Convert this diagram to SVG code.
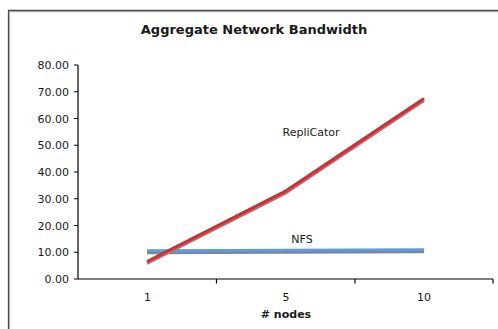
<svg xmlns="http://www.w3.org/2000/svg" width="498" height="329" viewBox="0 0 498 329">
  <style>
    text { font-family: "DejaVu Sans", Verdana, sans-serif; fill: #1a1a1a; }
    .lbl { font-size: 11px; }
    .ylbl { font-size: 11px; text-anchor: end; }
    .xlbl { font-size: 11px; text-anchor: middle; }
    .bold { font-weight: bold; }
    .axis { stroke: #000; stroke-width: 1.2; fill: none; }
    .shadow { stroke: #858585; stroke-width: 3; fill: none; stroke-linejoin: round; }
    .rep { stroke: #e0262e; stroke-width: 3; fill: none; stroke-linejoin: round; }
    .nfs { stroke: #5b9bea; stroke-width: 2.6; fill: none; }
  </style>
  <rect width="498" height="329" fill="#fff"/>
  <!-- chart frame -->
  <g id="frame">
    <path d="M9.5 340 V11.5 H510" stroke="#c8c8c8" stroke-width="1.5" fill="none"/>
    <path d="M8.5 340 V10.5 H510" stroke="#4a4a4a" stroke-width="1.3" fill="none"/>
  </g>
  <g id="title">
    <text x="254" y="34" text-anchor="middle" class="bold" font-size="13">Aggregate Network Bandwidth</text>
  </g>
  <!-- axes -->
  <g id="y-axis">
    <path class="axis" d="M78 65 V279 M74 65 H78 M74 91.75 H78 M74 118.5 H78 M74 145.25 H78 M74 172 H78 M74 198.75 H78 M74 225.5 H78 M74 252.25 H78 M74 279 H78"/>
    <text class="ylbl" x="69" y="69">80.00</text>
    <text class="ylbl" x="69" y="95.75">70.00</text>
    <text class="ylbl" x="69" y="122.5">60.00</text>
    <text class="ylbl" x="69" y="149.25">50.00</text>
    <text class="ylbl" x="69" y="176">40.00</text>
    <text class="ylbl" x="69" y="202.75">30.00</text>
    <text class="ylbl" x="69" y="229.5">20.00</text>
    <text class="ylbl" x="69" y="256.25">10.00</text>
    <text class="ylbl" x="69" y="283">0.00</text>
  </g>
  <g id="x-axis">
    <path class="axis" d="M78 279 H493 M216.5 279 V283.5 M355 279 V283.5 M493 279 V283.5"/>
    <text class="xlbl" x="147.5" y="301">1</text>
    <text class="xlbl" x="286" y="301">5</text>
    <text class="xlbl" x="424" y="301">10</text>
    <text class="xlbl bold" x="286" y="318"># nodes</text>
  </g>
  <!-- data series -->
  <g id="series">
    <g id="nfs">
      <path class="shadow" d="M147 252.8 L286 252.3 L424 251.8"/>
      <path class="nfs" d="M147 250.6 L286 250.1 L424 249.6"/>
      <text class="lbl" x="302" y="243" text-anchor="middle">NFS</text>
    </g>
    <g id="replicator">
      <path class="shadow" d="M147 263.5 L286 192.8 L424 100.6"/>
      <path class="rep" d="M147 261.5 L286 190.8 L424 98.6"/>
      <text class="lbl" x="311" y="136" text-anchor="middle">RepliCator</text>
    </g>
  </g>
</svg>
